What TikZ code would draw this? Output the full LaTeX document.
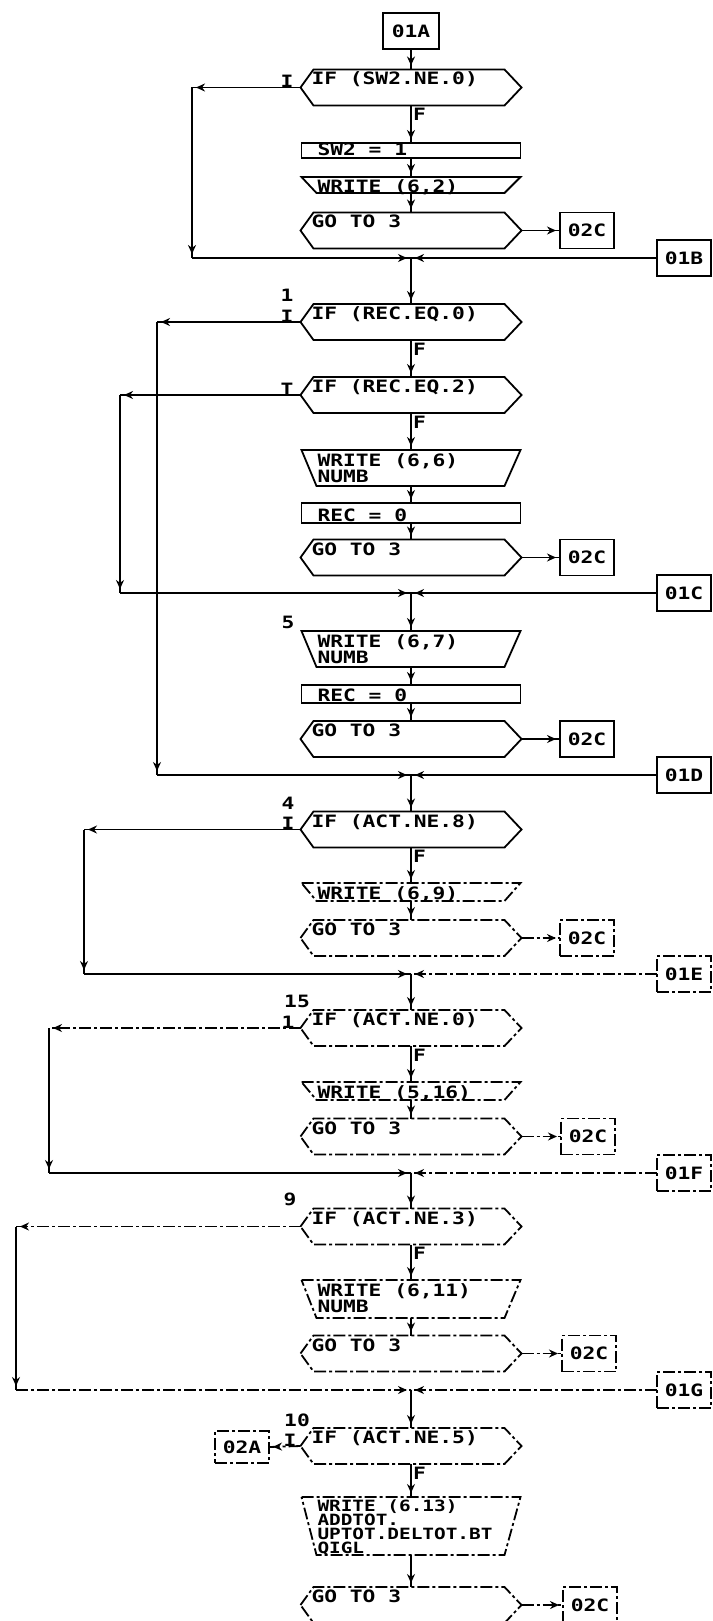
\documentclass[tikz,border=0pt]{standalone}
\usepackage{fontspec}
\newfontfamily\plotfont[FakeStretch=1.25]{DejaVu Sans Mono}
\usetikzlibrary{arrows.meta,decorations.markings,calc}

\tikzset{
  txt/.style={font=\plotfont\bfseries\fontsize{17}{17}\selectfont, inner sep=0pt, outer sep=0pt},
  smalltxt/.style={txt, font=\plotfont\bfseries\fontsize{15.5}{15.5}\selectfont},
  holder/.style={shape=rectangle, inner sep=0pt, outer sep=0pt},
  shp/.style={line width=1.8pt, line join=miter},
  faded/.style={dash pattern=on 12pt off 3pt on 3pt off 3pt},
  flow/.style={line width=1.8pt, postaction={decorate},
    decoration={markings, mark=at position -4pt with {\arrow{Stealth[length=9pt,width=8pt]}}}},
  termbox/.style={txt, shp, draw, minimum width=54pt, minimum height=36pt},
}

\newcommand\HexBox[4][]{%
  \node[holder, minimum width=221pt, minimum height=36pt] (#2) at (411,#3) {};
  \draw[shp,#1] (#2.west) -- ([xshift=13pt]#2.north west) -- ([xshift=-17pt]#2.north east)
     -- (#2.east) -- ([xshift=-17pt]#2.south east) -- ([xshift=13pt]#2.south west) -- cycle;
  \node[txt, anchor=base west] (#2-t) at ([xshift=11pt,yshift=-15.5pt]#2.north west) {#4};
}
\newcommand\WrBox[5][]{%
  \node[holder, minimum width=219pt, minimum height=#4pt] (#2) at (411,#3) {};
  \draw[shp,#1] (#2.north west) -- (#2.north east) -- ([xshift=-16pt]#2.south east)
     -- ([xshift=15pt]#2.south west) -- cycle;
  \node[txt, anchor=base west] (#2-t) at ([xshift=16pt,yshift=-16pt]#2.north west) {#5};
}
\newcommand\AsgBox[5][]{%
  \node[holder, draw, shp, #1, minimum width=219pt, minimum height=#4pt] (#2) at (411,#3) {};
  \node[txt, anchor=base west] (#2-t) at ([xshift=16pt,yshift=2pt]#2.south west) {#5};
}

\begin{document}
\begin{tikzpicture}[x=1pt,y=-1pt]
\useasboundingbox (0,0) rectangle (712,1621);
\fill[white] (0,0) rectangle (712,1621);
\clip (0,0) rectangle (712,1621);

% ---------- block 1 ----------
\node[termbox, minimum width=56pt] (s01A) at (411,31) {01A};
\HexBox{h1}{87.5}{IF (SW2.NE.0)}
\AsgBox{a1}{150.5}{15}{SW2 = 1}
\WrBox{w1}{185}{16}{WRITE (6,2)}
\HexBox{g1}{230.5}{GO TO 3}
\node[termbox] (c1) at (587,230.5) {02C};
\coordinate (j1) at (411,258);
\node[termbox] (b1) at (684,258) {01B};
\coordinate (l1a) at (192,87.5);
\coordinate (l1b) at (192,258);
\node[txt, anchor=base] (t1) at (287,87.5) {I};
\node[txt, anchor=north west] (f1) at ([xshift=2pt,yshift=-3pt]h1.south) {F};

\draw[flow] (s01A.south) -- (h1.north);
\draw[flow] (h1.south) -- (a1.north);
\draw[flow] (a1.south) -- (w1.north);
\draw[flow] (w1.south) -- (g1.north);
\draw[flow] (g1.east) -- (c1.west);
\draw[flow] (h1.west) -- (l1a);
\draw[flow] (l1a) -- (l1b);
\draw[flow] (l1b) -- (j1);
\draw[flow] (b1.west) -- (j1);

% ---------- block 2 ----------
\HexBox{h2}{322}{IF (REC.EQ.0)}
\node[txt, anchor=base] (n2) at (287,301) {1};
\node[txt, anchor=base] (t2) at (287,322) {I};
\node[txt, anchor=north west] (f2) at ([xshift=2pt,yshift=-3pt]h2.south) {F};
\HexBox{h3}{395}{IF (REC.EQ.2)}
\node[txt, anchor=base] (t3) at (287,395) {T};
\node[txt, anchor=north west] (f3) at ([xshift=2pt,yshift=-3pt]h3.south) {F};
\WrBox{w2}{468}{36}{WRITE (6,6)}
\node[txt, anchor=base west] (w2-u) at ([xshift=16pt,yshift=-32pt]w2.north west) {NUMB};
\AsgBox{a2}{513}{20}{REC = 0}
\HexBox{g2}{557.5}{GO TO 3}
\node[termbox] (c2) at (587,557.5) {02C};
\coordinate (j2) at (411,593);
\node[termbox] (b2) at (684,593) {01C};
\coordinate (l3a) at (120,395);
\coordinate (l3b) at (120,593);

\draw[flow] (j1) -- (h2.north);
\draw[flow] (h2.south) -- (h3.north);
\draw[flow] (h3.south) -- (w2.north);
\draw[flow] (w2.south) -- (a2.north);
\draw[flow] (a2.south) -- (g2.north);
\draw[flow] (g2.east) -- (c2.west);
\draw[flow] (h3.west) -- (l3a);
\draw[flow] (l3a) -- (l3b);
\draw[flow] (l3b) -- (j2);
\draw[flow] (b2.west) -- (j2);

% ---------- block 3 ----------
\node[txt, anchor=base] (n5) at (288,628) {5};
\WrBox{w3}{649}{36}{WRITE (6,7)}
\node[txt, anchor=base west] (w3-u) at ([xshift=16pt,yshift=-32pt]w3.north west) {NUMB};
\AsgBox{a3}{694}{18}{REC = 0}
\HexBox{g3}{739}{GO TO 3}
\node[termbox] (c3) at (587,739) {02C};
\coordinate (j3) at (411,775);
\node[termbox] (b3) at (684,775) {01D};
\coordinate (l2a) at (157,322);
\coordinate (l2b) at (157,775);

\draw[flow] (j2) -- (w3.north);
\draw[flow] (w3.south) -- (a3.north);
\draw[flow] (a3.south) -- (g3.north);
\draw[flow] (g3.east) -- (c3.west);
\draw[flow] (h2.west) -- (l2a);
\draw[flow] (l2a) -- (l2b);
\draw[flow] (l2b) -- (j3);
\draw[flow] (b3.west) -- (j3);

% ---------- block 4 ----------
\HexBox{h4}{829.5}{IF (ACT.NE.8)}
\node[txt, anchor=base] (n4) at (288,809) {4};
\node[txt, anchor=base] (t4) at (288,829.5) {I};
\node[txt, anchor=north west] (f4) at ([xshift=2pt,yshift=-3pt]h4.south) {F};
\WrBox[faded]{w4}{892}{18}{WRITE (6,9)}
\HexBox[faded]{g4}{938}{GO TO 3}
\node[termbox, faded] (c4) at (587,938) {02C};
\coordinate (j4) at (411,974);
\node[termbox, faded] (b4) at (684,974) {01E};
\coordinate (l4a) at (84,829.5);
\coordinate (l4b) at (84,974);

\draw[flow] (j3) -- (h4.north);
\draw[flow] (h4.south) -- (w4.north);
\draw[flow] (w4.south) -- (g4.north);
\draw[flow, faded] (g4.east) -- (c4.west);
\draw[flow] (h4.west) -- (l4a);
\draw[flow] (l4a) -- (l4b);
\draw[flow] (l4b) -- (j4);
\draw[flow, faded] (b4.west) -- (j4);

% ---------- block 5 ----------
\HexBox[faded]{h5}{1028}{IF (ACT.NE.0)}
\node[txt, anchor=base] (n15) at (297,1007) {15};
\node[txt, anchor=base] (t5) at (288,1028) {1};
\node[txt, anchor=north west] (f5) at ([xshift=2pt,yshift=-3pt]h5.south) {F};
\WrBox[faded]{w5}{1091}{18}{WRITE (5,16)}
\HexBox[faded]{g5}{1136.5}{GO TO 3}
\node[termbox, faded] (c5) at (588,1136.5) {02C};
\coordinate (j5) at (411,1173);
\node[termbox, faded] (b5) at (684,1173) {01F};
\coordinate (l5a) at (49,1028);
\coordinate (l5b) at (49,1173);

\draw[flow] (j4) -- (h5.north);
\draw[flow] (h5.south) -- (w5.north);
\draw[flow] (w5.south) -- (g5.north);
\draw[flow, faded] (g5.east) -- (c5.west);
\draw[flow, faded] (h5.west) -- (l5a);
\draw[flow] (l5a) -- (l5b);
\draw[flow] (l5b) -- (j5);
\draw[flow, faded] (b5.west) -- (j5);

% ---------- block 6 ----------
\HexBox[faded]{h6}{1226.5}{IF (ACT.NE.3)}
\node[txt, anchor=base] (n9) at (290,1205) {9};
\node[txt, anchor=north west] (f6) at ([xshift=2pt,yshift=-3pt]h6.south) {F};
\WrBox[faded]{w6}{1299}{38}{WRITE (6,11)}
\node[txt, anchor=base west] (w6-u) at ([xshift=16pt,yshift=-32pt]w6.north west) {NUMB};
\HexBox[faded]{g6}{1353.5}{GO TO 3}
\node[termbox, faded] (c6) at (589,1353.5) {02C};
\coordinate (j6) at (411,1390);
\node[termbox, faded] (b6) at (684,1390) {01G};
\coordinate (l6a) at (16,1226.5);
\coordinate (l6b) at (16,1390);

\draw[flow] (j5) -- (h6.north);
\draw[flow] (h6.south) -- (w6.north);
\draw[flow] (w6.south) -- (g6.north);
\draw[flow, faded] (g6.east) -- (c6.west);
\draw[flow, faded] (h6.west) -- (l6a);
\draw[flow] (l6a) -- (l6b);
\draw[flow, faded] (l6b) -- (j6);
\draw[flow, faded] (b6.west) -- (j6);

% ---------- block 7 ----------
\HexBox[faded]{h7}{1446}{IF (ACT.NE.5)}
\node[txt, anchor=base] (n10) at (297,1426) {10};
\node[txt, anchor=base] (t7) at (290,1446) {I};
\node[txt, anchor=north west] (f7) at ([xshift=2pt,yshift=-3pt]h7.south) {F};
\node[termbox, faded, minimum height=32pt] (s02A) at (242,1447) {02A};
\node[holder, minimum width=219pt, minimum height=58pt] (w7) at (411,1526) {};
\draw[shp, faded] (w7.north west) -- (w7.north east) -- ([xshift=-16pt]w7.south east)
   -- ([xshift=15pt]w7.south west) -- cycle;
\node[smalltxt, anchor=base west] (w7-a) at ([xshift=16pt,yshift=-14pt]w7.north west) {WRITE (6.13)};
\node[smalltxt, anchor=base west] (w7-b) at ([xshift=16pt,yshift=-28pt]w7.north west) {ADDTOT.};
\node[smalltxt, anchor=base west] (w7-c) at ([xshift=16pt,yshift=-42pt]w7.north west) {UPTOT.DELTOT.BT};
\node[smalltxt, anchor=base west] (w7-d) at ([xshift=16pt,yshift=-56pt]w7.north west) {QIGL};
\HexBox[faded]{g7}{1605}{GO TO 3}
\node[termbox, faded] (c7) at (590,1605) {02C};

\draw[flow] (j6) -- (h7.north);
\draw[flow, faded] (h7.west) -- (s02A.east);
\draw[flow] (h7.south) -- (w7.north);
\draw[flow] (w7.south) -- (g7.north);
\draw[flow, faded] (g7.east) -- (c7.west);
\end{tikzpicture}
\end{document}
